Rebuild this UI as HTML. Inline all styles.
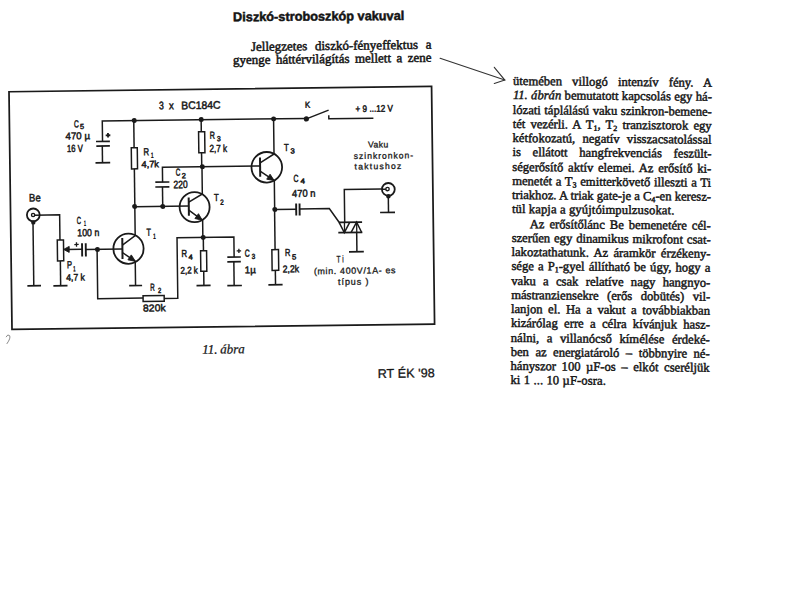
<!DOCTYPE html>
<html><head><meta charset="utf-8">
<style>
html,body{margin:0;padding:0;background:#fff;}
body{width:800px;height:600px;position:relative;overflow:hidden;}
#L{position:absolute;left:0;top:0;width:800px;height:600px;transform-origin:9px 91.75px;transform:rotate(-0.725deg);}
#L svg{position:absolute;left:0;top:0;}
#L polyline,#L rect,#L circle{stroke:#1a1a1a;fill:none;stroke-linejoin:miter;stroke-linecap:butt;}
#L rect{fill:#fff;}
#L .d{fill:#1a1a1a;stroke:none;}
#L .a{stroke:#1a1a1a;stroke-width:0.9px;stroke-linejoin:round;}
#L text{font-family:"Liberation Sans",sans-serif;fill:#1a1a1a;stroke:#1a1a1a;stroke-width:0.5px;}
#L text.t{fill:#141414;stroke:#141414;stroke-width:0.5px;}
#L text.t3{fill:#141414;stroke:#141414;stroke-width:0.25px;}
#L text.th{stroke-width:0.3px;}
#L text.t2{fill:#141414;stroke:#141414;stroke-width:0.3px;}
#R{position:absolute;left:513.3px;top:74.4px;width:199px;transform-origin:0 11.4px;transform:rotate(0.5deg);
font-family:"Liberation Serif",serif;font-size:12.6px;line-height:14.25px;color:#141414;-webkit-text-stroke:0.45px #141414;}
#R .ln{height:14.25px;white-space:nowrap;text-align:justify;text-align-last:justify;}
#R .nj{text-align-last:left;letter-spacing:0.12px;}
#R sub{font-size:8px;vertical-align:-2px;line-height:0;}
#R .ind{display:inline-block;width:18px;}
</style></head><body>
<div id="L"><svg width="800" height="600" viewBox="0 0 800 600">
<rect x="9" y="91.75" width="422.6" height="237.7" fill="none" stroke-width="1.75" style="fill:none"/>
<polyline points="101.9,142.58 101.9,122.22 306.03,122.22" stroke-width="1.5"/>
<polyline points="101.6,146.98 101.6,163.88" stroke-width="1.5"/>
<circle cx="133.83" cy="122.08" r="2.5" class="d"/>
<circle cx="200.83" cy="122.03" r="2.5" class="d"/>
<circle cx="273.24" cy="122.25" r="2.5" class="d"/>
<circle cx="306.03" cy="122.66" r="2.6" class="d"/>
<polyline points="306.03,122.66 328.34,114.14" stroke-width="1.5"/>
<polyline points="328.46,119.24 328.46,122.83 373.03,122.83" stroke-width="1.5"/>
<polyline points="95.36,142.58 109.26,142.58" stroke-width="1.7"/>
<polyline points="95.61,147.19 109.21,147.19" stroke-width="1.7"/>
<polyline points="94.6,163.88 109.29,163.88" stroke-width="1.7"/>
<polyline points="105.14,136.55 109.74,136.55" stroke-width="1.8"/>
<polyline points="107.44,134.25 107.44,138.85" stroke-width="1.8"/>
<polyline points="133.38,122.08 133.38,208.08" stroke-width="1.5"/>
<rect x="130.55" y="149.28" width="6" height="21.2" stroke-width="1.5"/>
<circle cx="133.14" cy="208.08" r="2.5" class="d"/>
<polyline points="200.78,122.03 200.78,169.23" stroke-width="1.5"/>
<rect x="198.05" y="134.13" width="6.1" height="21.1" stroke-width="1.5"/>
<circle cx="201.33" cy="169.24" r="2.5" class="d"/>
<polyline points="161.44,184.14 161.44,169.15 259.04,169.15" stroke-width="1.5"/>
<polyline points="161.26,188.84 161.26,208.43" stroke-width="1.5"/>
<polyline points="154.15,184.03 168.24,184.03" stroke-width="1.7"/>
<polyline points="154.08,188.83 168.18,188.83" stroke-width="1.7"/>
<circle cx="161.24" cy="208.44" r="2.5" class="d"/>
<polyline points="133.14,208.37 187.33,208.37" stroke-width="1.5"/>
<circle cx="193.13" cy="209.44" r="15" fill="none" stroke-width="1.8"/>
<polyline points="187.33,199.77 187.33,218.07" stroke-width="2.0"/>
<polyline points="187.39,204.47 201.01,196.43 201.01,169.24" stroke-width="1.5"/>
<polyline points="187.29,212.47 201,222.74 201,239.85" stroke-width="1.5"/>
<polygon points="200.66,222.74 193.28,220.85 196.93,216.09" class="d a"/>
<circle cx="265.82" cy="170.56" r="15.3" fill="none" stroke-width="1.8"/>
<polyline points="259.13,160.67 259.13,179.97" stroke-width="2.0"/>
<polyline points="259.18,166.07 273.21,157.35 273.21,122.25" stroke-width="1.5"/>
<polyline points="259.08,174.27 273.17,183.95 273.17,212.85" stroke-width="1.5"/>
<polygon points="273.05,183.95 265.59,182.43 269.01,177.5" class="d a"/>
<circle cx="273.29" cy="212.85" r="2.5" class="d"/>
<polyline points="273.29,212.89 294.49,212.89" stroke-width="1.5"/>
<polyline points="294.69,207.23 294.69,219.22" stroke-width="1.9"/>
<polyline points="298.09,207.27 298.09,219.27" stroke-width="1.9"/>
<polyline points="298.09,212.61 327.8,212.61 337.42,226.47" stroke-width="1.5"/>
<polyline points="337.02,226.56 360.42,226.56" stroke-width="1.7"/>
<polyline points="336.49,236.86 360.49,236.86" stroke-width="1.7"/>
<polyline points="337.42,226.47 342.49,236.83 348.02,226.6" stroke-width="1.5"/>
<polyline points="349.19,236.92 354.92,226.59 359.89,236.95" stroke-width="1.5"/>
<polyline points="342.76,226.53 342.76,236.83" stroke-width="1.3"/>
<polyline points="354.96,226.59 354.96,236.89" stroke-width="1.3"/>
<polyline points="343.03,226.63 343.03,193.82 380.24,193.82" stroke-width="1.5"/>
<polyline points="354.87,236.99 354.87,256.19" stroke-width="1.5"/>
<polyline points="346.95,256.18 361.75,256.18" stroke-width="1.7"/>
<circle cx="387.08" cy="194.19" r="6.4" fill="none" stroke-width="1.8"/>
<circle cx="386.24" cy="193.88" r="1.7" fill="none" stroke-width="1.4"/>
<polyline points="380.24,193.98 384.54,193.98" stroke-width="1.5"/>
<polyline points="386.95,200.99 386.95,217.09" stroke-width="1.5"/>
<circle cx="387.05" cy="200.99" r="2.3" class="d"/>
<polyline points="378.54,217.18 393.44,217.18" stroke-width="1.7"/>
<polyline points="273.06,212.86 273.06,288.15" stroke-width="1.5"/>
<rect x="269.85" y="252.96" width="6.6" height="20.8" stroke-width="1.5"/>
<polyline points="265.94,288.16 280.14,288.16" stroke-width="1.7"/>
<circle cx="31.74" cy="215.2" r="6.4" fill="none" stroke-width="1.8"/>
<circle cx="31.54" cy="215.3" r="1.6" fill="none" stroke-width="1.4"/>
<polyline points="33.14,215.47 58.08,215.47 58.08,240.63" stroke-width="1.5"/>
<circle cx="31.64" cy="222.7" r="2.2" class="d"/>
<polyline points="31.34,223.1 31.34,286.09" stroke-width="1.5"/>
<polyline points="24.94,286.1 38.54,286.1" stroke-width="1.7"/>
<rect x="55.39" y="240.64" width="6.2" height="20.9" stroke-width="1.5"/>
<polyline points="58.2,261.54 58.2,286.44" stroke-width="1.5"/>
<polyline points="50.94,286.44 65.04,286.44" stroke-width="1.7"/>
<polyline points="64,250.21 80.1,250.21" stroke-width="1.5"/>
<polygon points="61.6,250.08 67.24,247.15 67.16,253.15" class="d a"/>
<polyline points="72.36,245.34 76.76,245.34" stroke-width="1.3"/>
<polyline points="74.56,243.14 74.56,247.54" stroke-width="1.3"/>
<polyline points="80.09,244.21 80.09,257.51" stroke-width="1.9"/>
<polyline points="83.79,244.26 83.79,257.56" stroke-width="1.9"/>
<polyline points="83.8,250.54 120.4,250.54" stroke-width="1.5"/>
<circle cx="95.4" cy="250.61" r="2.5" class="d"/>
<circle cx="126.5" cy="250.2" r="15.1" fill="none" stroke-width="1.8"/>
<polyline points="120.41,239.32 120.41,260.52" stroke-width="2.0"/>
<polyline points="120.45,246.62 133.35,237.29 133.35,208.08" stroke-width="1.5"/>
<polyline points="120.36,253.92 133.09,262.89 133.09,287.18" stroke-width="1.5"/>
<polygon points="133.24,262.89 125.78,261.35 129.21,256.43" class="d a"/>
<polyline points="126.74,287.19 139.64,287.19" stroke-width="1.7"/>
<polyline points="95.09,250.61 95.09,299.79 140.47,299.79" stroke-width="1.5"/>
<rect x="140.47" y="297.41" width="21.1" height="5.7" stroke-width="1.5"/>
<polyline points="161.57,300.43 175.16,300.43 175.16,239.88 232.02,239.88 232.02,259.93" stroke-width="1.5"/>
<circle cx="201.34" cy="239.85" r="2.5" class="d"/>
<polyline points="201.44,239.85 201.44,287.95" stroke-width="1.5"/>
<rect x="198.54" y="253.25" width="6" height="20.4" stroke-width="1.5"/>
<polyline points="194.03,287.95 208.13,287.95" stroke-width="1.7"/>
<polyline points="225.19,259.93 238.69,259.93" stroke-width="1.7"/>
<polyline points="225.13,264.63 238.63,264.63" stroke-width="1.7"/>
<polyline points="231.68,264.63 231.68,288.43" stroke-width="1.5"/>
<polyline points="224.83,288.44 239.43,288.44" stroke-width="1.7"/>
<polyline points="234.67,253.8 239.07,253.8" stroke-width="1.3"/>
<polyline points="236.87,251.6 236.87,256" stroke-width="1.3"/>
<text x="158.67" y="111.1" font-size="10.9" textLength="4.85" lengthAdjust="spacingAndGlyphs">3</text>
<text x="168.77" y="111.22" font-size="10.9" textLength="4.8" lengthAdjust="spacingAndGlyphs">x</text>
<text x="181.02" y="111.38" font-size="10.9" textLength="39.4" lengthAdjust="spacingAndGlyphs">BC184C</text>
<text x="73.44" y="128.22" font-size="10.2" textLength="4.85" lengthAdjust="spacingAndGlyphs">C</text>
<text x="79.42" y="129.79" font-size="7.4" textLength="4.1" lengthAdjust="spacingAndGlyphs">5</text>
<text x="64.99" y="140.11" font-size="9.9" textLength="24.4" lengthAdjust="spacingAndGlyphs">470 µ</text>
<text x="66.33" y="152.83" font-size="10.3" textLength="15.8" lengthAdjust="spacingAndGlyphs">16 V</text>
<text x="142.59" y="156.9" font-size="10.2" textLength="5.6" lengthAdjust="spacingAndGlyphs">R</text>
<text x="150.25" y="159.59" font-size="7.4" textLength="2.55" lengthAdjust="spacingAndGlyphs">1</text>
<text x="140.53" y="169.07" font-size="9.2" textLength="17.5" lengthAdjust="spacingAndGlyphs">4,7k</text>
<text x="209.09" y="141.24" font-size="10.2" textLength="5.2" lengthAdjust="spacingAndGlyphs">R</text>
<text x="216.36" y="143.93" font-size="7.4" textLength="3.75" lengthAdjust="spacingAndGlyphs">3</text>
<text x="208.62" y="154.63" font-size="10.2" textLength="17.8" lengthAdjust="spacingAndGlyphs">2,7 k</text>
<text x="174.72" y="177.9" font-size="10.2" textLength="4.6" lengthAdjust="spacingAndGlyphs">C</text>
<text x="180.59" y="180.48" font-size="7.4" textLength="4.2" lengthAdjust="spacingAndGlyphs">2</text>
<text x="172.27" y="190.27" font-size="10.8" textLength="14.2" lengthAdjust="spacingAndGlyphs">220</text>
<text x="212.6" y="203.59" font-size="10.2" textLength="4.8" lengthAdjust="spacingAndGlyphs">T</text>
<text x="218.85" y="207.36" font-size="7.4" textLength="3.5" lengthAdjust="spacingAndGlyphs">2</text>
<text x="283.23" y="154.47" font-size="10.2" textLength="4.8" lengthAdjust="spacingAndGlyphs">T</text>
<text x="289.7" y="157.06" font-size="7.4" textLength="4.3" lengthAdjust="spacingAndGlyphs">3</text>
<text x="304.77" y="111.49" font-size="8.7" textLength="5.2" lengthAdjust="spacingAndGlyphs">K</text>
<text x="355.32" y="116.38" font-size="9.5" textLength="37.4" lengthAdjust="spacingAndGlyphs">+ 9 ...12 V</text>
<text x="367.36" y="152.14" font-size="8.6" textLength="20.1" lengthAdjust="spacing" class="th">Vaku</text>
<text x="352.82" y="163.36" font-size="8.6" textLength="59.5" lengthAdjust="spacing" class="th">szinkronkon-</text>
<text x="353.59" y="173.87" font-size="8.6" textLength="46.8" lengthAdjust="spacing" class="th">taktushoz</text>
<text x="292.34" y="185.59" font-size="10.2" textLength="5" lengthAdjust="spacingAndGlyphs">C</text>
<text x="299.32" y="187.18" font-size="7.4" textLength="4.5" lengthAdjust="spacingAndGlyphs">4</text>
<text x="290.65" y="200.57" font-size="10.2" textLength="23.5" lengthAdjust="spacingAndGlyphs">470 n</text>
<text x="27.71" y="201.85" font-size="10.9" textLength="11.6" lengthAdjust="spacingAndGlyphs">Be</text>
<text x="75.02" y="224.85" font-size="10.2" textLength="4.3" lengthAdjust="spacingAndGlyphs">C</text>
<text x="82.3" y="226.64" font-size="7.4" textLength="2" lengthAdjust="spacingAndGlyphs">1</text>
<text x="75.47" y="237.15" font-size="10.2" textLength="22" lengthAdjust="spacingAndGlyphs">100 n</text>
<text x="64.86" y="268.92" font-size="10.2" textLength="5.1" lengthAdjust="spacingAndGlyphs">P</text>
<text x="71.02" y="272.1" font-size="7.4" textLength="2.3" lengthAdjust="spacingAndGlyphs">1</text>
<text x="63.81" y="281.36" font-size="9.5" textLength="18.7" lengthAdjust="spacingAndGlyphs">4,7 k</text>
<text x="144.67" y="237.43" font-size="10.2" textLength="4.5" lengthAdjust="spacingAndGlyphs">T</text>
<text x="151.33" y="240.51" font-size="7.4" textLength="2.5" lengthAdjust="spacingAndGlyphs">1</text>
<text x="147.77" y="292.57" font-size="10.2" textLength="4.5" lengthAdjust="spacingAndGlyphs">R</text>
<text x="155.54" y="294.77" font-size="7.4" textLength="3.3" lengthAdjust="spacingAndGlyphs">2</text>
<text x="140.31" y="313.18" font-size="10" textLength="22.5" lengthAdjust="spacingAndGlyphs">820k</text>
<text x="179.5" y="259.07" font-size="10.2" textLength="5.6" lengthAdjust="spacingAndGlyphs">R</text>
<text x="186.36" y="261.86" font-size="7.4" textLength="4.3" lengthAdjust="spacingAndGlyphs">4</text>
<text x="178.18" y="275.86" font-size="9.6" textLength="17.4" lengthAdjust="spacingAndGlyphs">2,2 k</text>
<text x="242.64" y="259.72" font-size="10.2" textLength="5" lengthAdjust="spacingAndGlyphs">C</text>
<text x="249.61" y="262.06" font-size="7.4" textLength="3.5" lengthAdjust="spacingAndGlyphs">3</text>
<text x="242.43" y="276.22" font-size="9.8" textLength="11" lengthAdjust="spacingAndGlyphs">1µ</text>
<text x="282.8" y="259.58" font-size="10.2" textLength="5.4" lengthAdjust="spacingAndGlyphs">R</text>
<text x="289.95" y="263.17" font-size="7.4" textLength="4.3" lengthAdjust="spacingAndGlyphs">5</text>
<text x="280.49" y="275.85" font-size="10" textLength="16.3" lengthAdjust="spacingAndGlyphs">2,2k</text>
<text x="334.21" y="266.53" font-size="9.5" textLength="7.35" lengthAdjust="spacingAndGlyphs" class="th">T i</text>
<text x="311.57" y="278.09" font-size="8.9" textLength="81.6" lengthAdjust="spacing" class="th">(min. 400V/1A- es</text>
<text x="335.63" y="289.05" font-size="9" textLength="30.4" lengthAdjust="spacing" class="th">típus )</text>
<text x="233.97" y="24.14" transform="rotate(0.3 233.97 24.14)" style="font-size:12.8px;font-family:'Liberation Sans', sans-serif;font-weight:bold;font-style:normal" textLength="171.2" lengthAdjust="spacingAndGlyphs" class="t">Diszkó-stroboszkóp vakuval</text>
<text x="251.5" y="54.07" style="font-size:13px;font-family:'Liberation Serif', serif;font-weight:normal;font-style:normal;word-spacing:4.46px" textLength="180.5" lengthAdjust="spacing" class="t">Jellegzetes diszkó-fényeffektus a</text>
<text x="233.33" y="67.14" style="font-size:13px;font-family:'Liberation Serif', serif;font-weight:normal;font-style:normal;word-spacing:2.16px" textLength="198.5" lengthAdjust="spacing" class="t">gyenge háttérvilágítás mellett a zene</text>
<text x="198.92" y="356.22" style="font-size:13px;font-family:'Liberation Serif', serif;font-weight:normal;font-style:italic;word-spacing:-0.59px" textLength="42.5" lengthAdjust="spacing" class="t3">11. ábra</text>
<text x="374.05" y="382.54" style="font-size:12.6px;font-family:'Liberation Sans', sans-serif;font-weight:normal;font-style:normal;word-spacing:0.21px" textLength="57" lengthAdjust="spacing" class="t2">RT ÉK '98</text>
</svg></div>
<div id="R">
<div class="ln">ütemében villogó intenzív fény. A</div>
<div class="ln"><i>11. ábrán</i> bemutatott kapcsolás egy há-</div>
<div class="ln">lózati táplálású vaku szinkron-bemene-</div>
<div class="ln">tét vezérli. A T<sub>1</sub>, T<sub>2</sub> tranzisztorok egy</div>
<div class="ln">kétfokozatú, negatív visszacsatolással</div>
<div class="ln">is ellátott hangfrekvenciás feszült-</div>
<div class="ln">ségerősítő aktív elemei. Az erősítő ki-</div>
<div class="ln">menetét a T<sub>3</sub> emitterkövető illeszti a Ti</div>
<div class="ln">triakhoz. A triak gate-je a C<sub>4</sub>-en keresz-</div>
<div class="ln nj">tül kapja a gyújtóimpulzusokat.</div>
<div class="ln"><span class=ind></span>Az erősítőlánc Be bemenetére cél-</div>
<div class="ln">szerűen egy dinamikus mikrofont csat-</div>
<div class="ln">lakoztathatunk. Az áramkör érzékeny-</div>
<div class="ln">sége a P<sub>1</sub>-gyel állítható be úgy, hogy a</div>
<div class="ln">vaku a csak relatíve nagy hangnyo-</div>
<div class="ln">mástranziensekre (erős dobütés) vil-</div>
<div class="ln">lanjon el. Ha a vakut a továbbiakban</div>
<div class="ln">kizárólag erre a célra kívánjuk hasz-</div>
<div class="ln">nálni, a villanócső kímélése érdeké-</div>
<div class="ln">ben az energiatároló – többnyire né-</div>
<div class="ln">hányszor 100 µF-os – elkót cseréljük</div>
<div class="ln nj">ki 1 ... 10 µF-osra.</div>
</div>
<svg style="position:absolute;left:0;top:0" width="800" height="600" viewBox="0 0 800 600">
<g stroke="#333" stroke-width="1.1" fill="none" stroke-linecap="round">
<path d="M440.1,58.3 L504.8,80.1"/>
<path d="M494.3,67.3 L504.8,80.1 L494.3,83.5"/>
<path d="M6.2,336.8 Q7.8,333.6 9.6,335.6 Q11,338 7,343.6" stroke="#8a8a8a" stroke-width="1"/>
</g>
</svg>
</body></html>
